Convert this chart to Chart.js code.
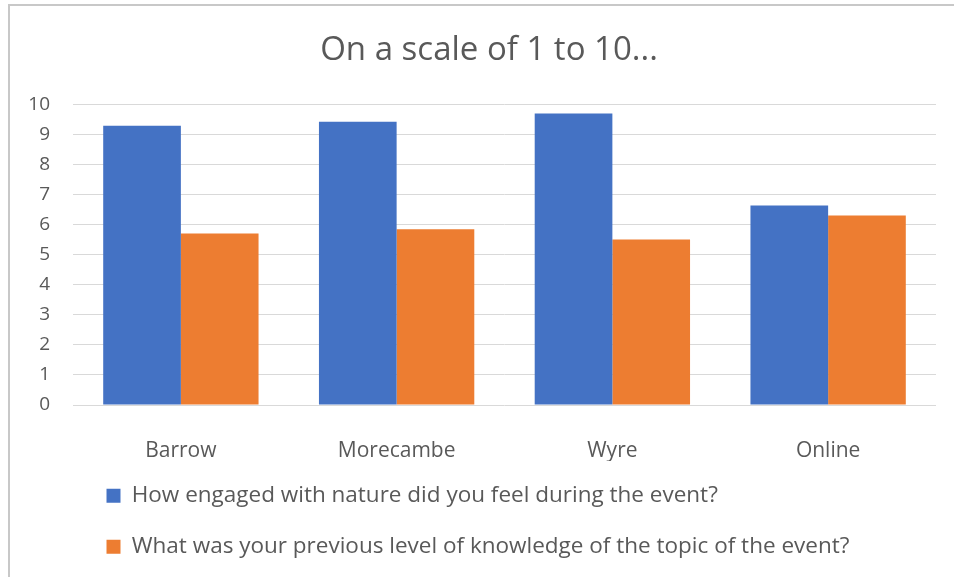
<!DOCTYPE html>
<html>
<head>
<meta charset="utf-8">
<script src="https://cdn.jsdelivr.net/npm/chart.js@4"></script>
<style>
  html, body { margin: 0; padding: 0; background: #fff; }
  #wrap { position: relative; width: 954px; height: 577px; overflow: hidden; }
  #frame { position: absolute; left: 8px; top: 4px; width: 980px; height: 600px;
           border-top: 2px solid #c8c8c8; border-left: 2px solid #c8c8c8; pointer-events: none; }
</style>
</head>
<body>
<div id="wrap">
  <canvas id="scoreChart" width="954" height="577"></canvas>
  <div id="frame"></div>
</div>
<script>
const venues = ['Barrow', 'Morecambe', 'Wyre', 'Online'];
const engagedScores = [9.3, 9.43, 9.7, 6.64];
const knowledgeScores = [5.71, 5.85, 5.51, 6.31];
const seriesNames = [
  'How engaged with nature did you feel during the event?',
  'What was your previous level of knowledge of the topic of the event?'
];
const yTicks = [0, 1, 2, 3, 4, 5, 6, 7, 8, 9, 10];

const textGrey = '#595959';
const fontFamily = '"Open Sans", "Liberation Sans", sans-serif';

// nudge title and legend sideways/up so they sit like the Excel original
const nudgeBoxes = {
  id: 'nudgeBoxes',
  afterLayout(chart) {
    const t = chart.titleBlock;
    if (t) { t.left += 21; t.right += 21; }
    const lg = chart.legend;
    if (lg) { lg.left += 78; lg.right += 78; lg.top -= 5; lg.bottom -= 5; }
  }
};

function drawScoreChart() {
  const ctx = document.getElementById('scoreChart').getContext('2d');
  new Chart(ctx, {
    type: 'bar',
    data: {
      labels: venues,
      datasets: [
        { label: seriesNames[0], data: engagedScores, backgroundColor: '#4472C4' },
        { label: seriesNames[1], data: knowledgeScores, backgroundColor: '#ED7D31' }
      ]
    },
    options: {
      responsive: false,
      animation: false,
      categoryPercentage: 0.72,
      barPercentage: 1,
      layout: { padding: { left: 0, right: 18, top: 0, bottom: 4 } },
      scales: {
        x: {
          grid: { display: false, drawTicks: false },
          border: { display: false },
          ticks: { color: textGrey, font: { family: fontFamily, size: 21, lineHeight: 1 }, padding: 36 },
          afterFit: s => { s.height = 56; }
        },
        y: {
          min: 0,
          max: 10,
          afterBuildTicks: s => { s.ticks = yTicks.map(v => ({ value: v })); },
          grid: { color: '#d9d9d9', lineWidth: 1, drawTicks: false },
          border: { display: false },
          ticks: { color: textGrey, font: { family: fontFamily, size: 19 }, padding: 23 },
          afterFit: s => { s.width = 73; }
        }
      },
      plugins: {
        title: {
          display: true,
          text: 'On a scale of 1 to 10...',
          color: textGrey,
          font: { family: fontFamily, size: 33, weight: 'normal' },
          padding: { top: 31, bottom: 34 }
        },
        legend: {
          position: 'bottom',
          align: 'start',
          labels: {
            color: textGrey,
            font: { family: fontFamily, size: 22.5 },
            boxWidth: 14,
            boxHeight: 14,
            padding: 28.5
          }
        },
        tooltip: { enabled: false }
      }
    },
    plugins: [nudgeBoxes]
  });
}

drawScoreChart();
</script>
</body>
</html>
